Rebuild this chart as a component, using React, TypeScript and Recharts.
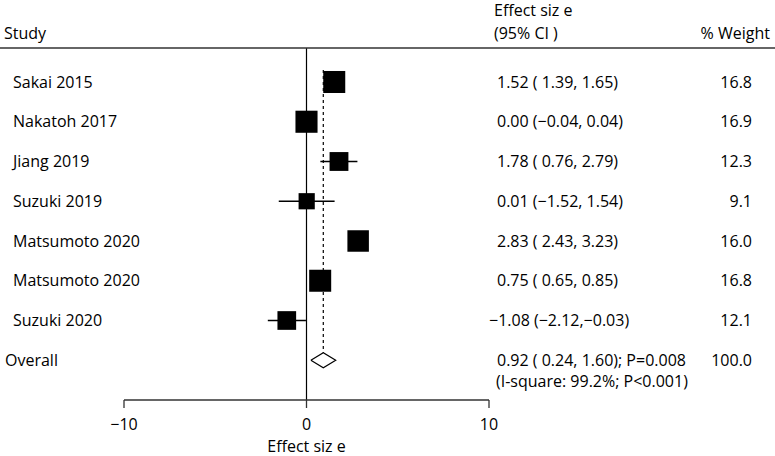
import { ScatterChart, Scatter, XAxis, YAxis, ReferenceLine, ErrorBar } from "recharts";

// Study rows (top to bottom)
const studies = ["Sakai 2015", "Nakatoh 2017", "Jiang 2019", "Suzuki 2019", "Matsumoto 2020", "Matsumoto 2020", "Suzuki 2020"];
const effects = [1.52, 0.0, 1.78, 0.01, 2.83, 0.75, -1.08];
const lowers = [1.39, -0.04, 0.76, -1.52, 2.43, 0.65, -2.12];
const uppers = [1.65, 0.04, 2.79, 1.54, 3.23, 0.85, -0.03];
const weights = [16.8, 16.9, 12.3, 9.1, 16.0, 16.8, 12.1];
const ciLabels = [
  "1.52 ( 1.39, 1.65)",
  "0.00 (\u22120.04, 0.04)",
  "1.78 ( 0.76, 2.79)",
  "0.01 (\u22121.52, 1.54)",
  "2.83 ( 2.43, 3.23)",
  "0.75 ( 0.65, 0.85)",
  "\u22121.08 (\u22122.12,\u22120.03)",
];

// Pooled estimate
const overallName = "Overall";
const overallEst = 0.92;
const overallLower = 0.24;
const overallUpper = 1.6;
const overallWeight = 100.0;
const overallCi = "0.92 ( 0.24, 1.60); P=0.008";
const overallHet = "(I-square: 99.2%; P<0.001)";

const xTicks = [-10, 0, 10];

const W = 775;
const H = 456;
const FONT = "'Open Sans', sans-serif";
const FS = 16;

const overallRow = studies.length;

const studyData = studies.map((name, i) => ({
  x: effects[i],
  y: i,
  err: [effects[i] - lowers[i], uppers[i] - effects[i]],
  weight: weights[i],
}));

const diamondH = 0.19;
const diamondData = [
  { x: overallLower, y: overallRow },
  { x: overallEst, y: overallRow - diamondH },
  { x: overallUpper, y: overallRow },
  { x: overallEst, y: overallRow + diamondH },
  { x: overallLower, y: overallRow },
];

const textData = [
  ...studies.map((name, i) => ({ x: 0, y: i, name, ci: ciLabels[i], w: weights[i].toFixed(1), extra: "" })),
  { x: 0, y: overallRow, name: overallName, ci: overallCi, w: overallWeight.toFixed(1), extra: overallHet },
];

const WeightedSquare = (props: any) => {
  const { cx, cy, payload } = props;
  const s = 5.37 * Math.sqrt(payload.weight);
  return <rect x={cx - s / 2} y={cy - s / 2} width={s} height={s} fill="#000" />;
};

const RowText = (props: any) => {
  const { cy, payload } = props;
  const isOverall = payload.y === overallRow;
  return (
    <g fontSize={FS} fill="#000" fontFamily={FONT}>
      <text x={isOverall ? 5 : 13} y={cy} dy="0.35em">{payload.name}</text>
      <text x={payload.ci.startsWith("\u2212") ? 489 : 497} y={cy} dy="0.35em">{payload.ci}</text>
      <text x={752} y={cy} dy="0.35em" textAnchor="end">{payload.w}</text>
      {payload.extra && (
        <text x={496} y={cy + 21} dy="0.35em">{payload.extra}</text>
      )}
    </g>
  );
};

const fmtTick = (v: number) => (v < 0 ? `\u2212${Math.abs(v)}` : `${v}`);

export default function App() {
  return (
    <div style={{ position: "absolute", left: 0, top: 0, width: W, height: H, fontFamily: FONT, background: "#fff" }}>
      <ScatterChart width={W} height={H} margin={{ top: 48, right: 286, bottom: 0, left: 124 }}>
        <XAxis
          type="number"
          dataKey="x"
          domain={[-10, 10]}
          ticks={xTicks}
          tickSize={8}
          tickMargin={11}
          height={56}
          tickFormatter={fmtTick}
          axisLine={{ stroke: "#333", strokeWidth: 1.3 }}
          tickLine={{ stroke: "#333", strokeWidth: 1.3 }}
          tick={{ fontSize: FS, fill: "#000" }}
          label={{ value: "Effect siz e", position: "insideBottom", offset: 4, fontSize: FS, fill: "#000" }}
        />
        <YAxis type="number" dataKey="y" domain={[-0.855, 8]} reversed hide />
        <ReferenceLine x={0} stroke="#000" strokeWidth={1.2} />
        <ReferenceLine
          segment={[
            { x: overallEst, y: -0.3 },
            { x: overallEst, y: overallRow - diamondH },
          ]}
          stroke="#000"
          strokeWidth={1.2}
          strokeDasharray="3 3"
        />
        <Scatter data={studyData} shape={WeightedSquare} isAnimationActive={false}>
          <ErrorBar dataKey="err" direction="x" width={0} stroke="#000" strokeWidth={1.3} />
        </Scatter>
        <Scatter
          data={diamondData}
          line={{ stroke: "#000", strokeWidth: 1.2 }}
          shape={() => <g />}
          isAnimationActive={false}
        />
        <Scatter data={textData} shape={RowText} isAnimationActive={false} />
      </ScatterChart>
      <svg width={W} height={H} style={{ position: "absolute", left: 0, top: 0, pointerEvents: "none" }}>
        <g fontSize={FS} fill="#000" fontFamily={FONT}>
          <text x={4} y={33} dy="0.35em">Study</text>
          <text x={494} y={10} dy="0.35em">Effect siz e</text>
          <text x={494} y={33} dy="0.35em">(95% CI )</text>
          <text x={770} y={33} dy="0.35em" textAnchor="end">% Weight</text>
        </g>
        <line x1={0} x2={W} y1={48} y2={48} stroke="#333" strokeWidth={1.3} />
      </svg>
    </div>
  );
}
